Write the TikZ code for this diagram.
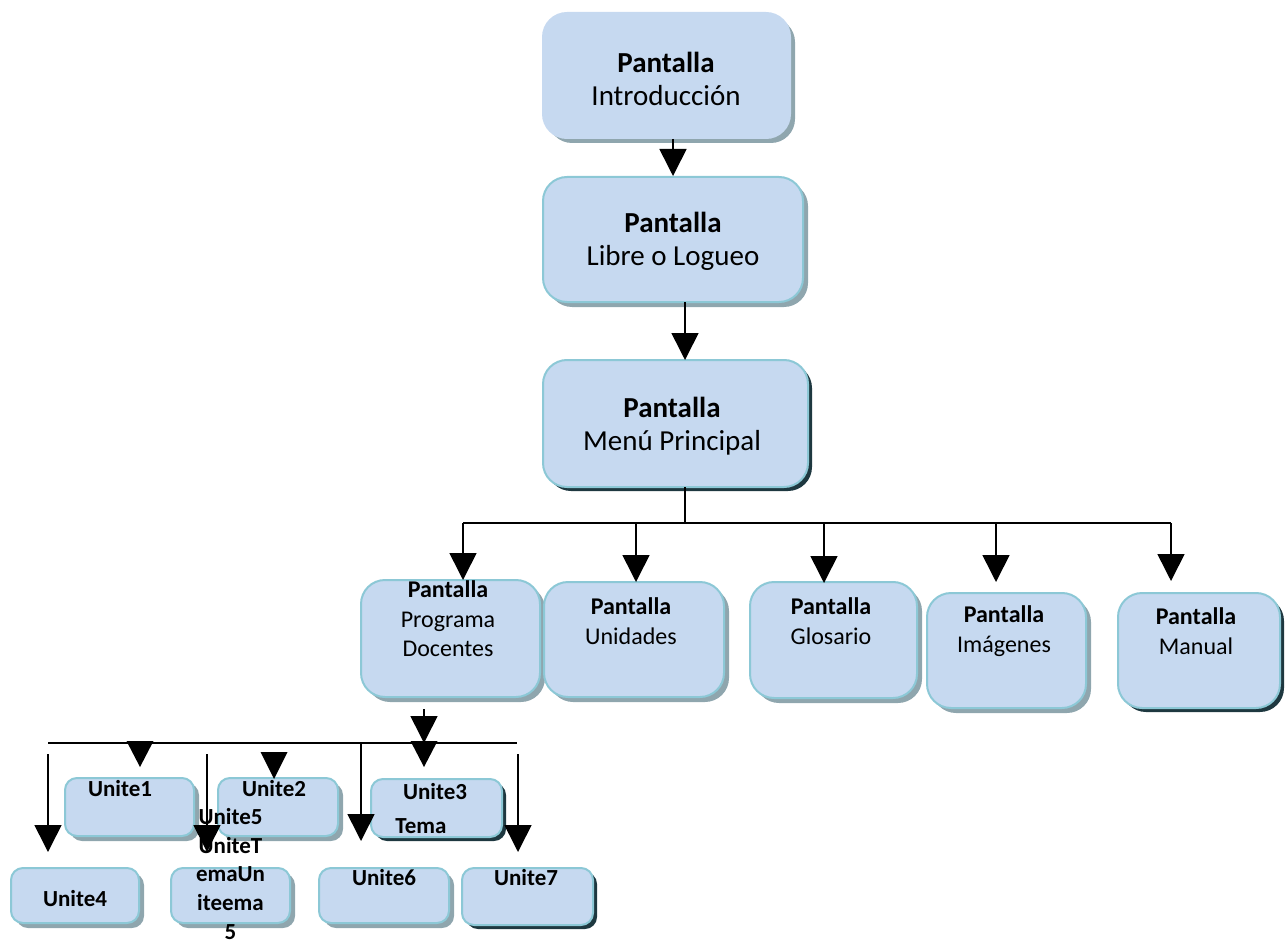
\documentclass[tikz,border=0pt]{standalone}
\usepackage{fontspec}
\setmainfont{Carlito}
\usetikzlibrary{arrows.meta,shadows}
\definecolor{boxfill}{HTML}{C6D9F0}
\definecolor{boxline}{HTML}{8CC8D6}
\definecolor{shgray}{HTML}{8FA6AE}
\definecolor{shdark}{HTML}{1E3840}
\newcommand\mkbox[6]{\node[#6, minimum width={(#4-#2)*1pt}, minimum height={(#5-#3)*1pt}] (#1) at ({(#2+#4)/2},{(#3+#5)/2}) {};}
\begin{document}
\begin{tikzpicture}[x=1pt,y=-1pt,
  bigbox/.style={draw=boxline, line width=2pt, fill=boxfill, rounded corners=24pt, inner sep=0pt},
  smallbox/.style={draw=boxline, line width=2pt, fill=boxfill, rounded corners=12pt, inner sep=0pt},
  gshadow/.style={drop shadow={shadow xshift=5pt, shadow yshift=-5pt, fill=shgray, opacity=1}},
  dshadow/.style={drop shadow={shadow xshift=4pt, shadow yshift=-4pt, fill=shdark, opacity=1}},
  bigt/.style={font=\fontsize{29}{33}\selectfont, align=center, inner sep=0pt},
  rowt/.style={font=\fontsize{24}{29.5}\selectfont, align=center, inner sep=0pt},
  unt/.style={font=\fontsize{23}{28.8}\selectfont\bfseries, align=center, inner sep=0pt},
  arr/.style={line width=1.6pt, -{Triangle[length=27pt, width=27pt]}},
  ln/.style={line width=1.6pt}]
\useasboundingbox (0,0) rectangle (1287,941);

% top boxes
\mkbox{intro}{543}{13}{790}{138}{bigbox,draw=boxfill,gshadow}
\mkbox{libre}{543}{177}{803}{302}{bigbox,gshadow}
\mkbox{menu}{543}{360}{808}{487}{bigbox,dshadow}
\node[bigt] (tintro) at (666,79) {\textbf{Pantalla}\\Introducción};
\node[bigt] (tlibre) at (673,241) {\textbf{Pantalla}\\Libre o Logueo};
\node[bigt] (tmenu) at (672,426) {\textbf{Pantalla}\\Menú Principal};

% row boxes
\mkbox{prog}{361}{580}{540}{697}{bigbox,gshadow}
\mkbox{unid}{544}{582}{724}{697}{bigbox,gshadow}
\mkbox{glos}{750}{582}{917}{698}{bigbox,gshadow}
\mkbox{imag}{927}{593}{1086}{708}{bigbox,gshadow}
\mkbox{manu}{1118}{593}{1280}{708}{bigbox,dshadow}
\node[rowt] (tprog) at (448,619) {\textbf{Pantalla}\\Programa\\Docentes};
\node[rowt] (tunid) at (631,621) {\textbf{Pantalla}\\Unidades};
\node[rowt] (tglos) at (831,621) {\textbf{Pantalla}\\Glosario};
\node[rowt] (timag) at (1004,631) {\textbf{Pantalla}\\Imágenes};
\node[rowt] (tmanu) at (1196,631) {\textbf{Pantalla}\\Manual};

% unit boxes
\mkbox{u1}{65}{778}{194}{836}{smallbox,gshadow}
\mkbox{u2}{218}{778}{338}{836}{smallbox,gshadow}
\mkbox{u3}{371}{779}{502}{837}{smallbox,dshadow}
\mkbox{u4}{11}{868}{139}{923}{smallbox,gshadow}
\mkbox{u5}{171}{868}{290}{923}{smallbox,gshadow}
\mkbox{u6}{319}{868}{449}{923}{smallbox,gshadow}
\mkbox{u7}{462}{868}{593}{925}{smallbox,dshadow}
\node[unt] (tu1) at (120,789) {Unite1};
\node[unt] (tu2) at (274,789) {Unite2};
\node[unt] (tu3) at (435,792) {Unite3};
\node[unt] (tu3b) at (421,826) {Tema};
\node[unt] (tu4) at (75,899) {Unite4};
\node[unt] (tu5) at (230.5,874) {Unite5\\UniteT\\emaUn\\iteema\\5};
\node[unt] (tu6) at (384,878) {Unite6};
\node[unt] (tu7) at (526,878) {Unite7};

% top connectors
\draw[arr] (intro.south -| libre.north) -- (libre.north);
\coordinate (l1) at (685,302);
\coordinate (m1) at (685,360);
\draw[arr] (l1) -- (m1);
\coordinate (m2) at (685,487);
\coordinate (bus) at (685,523);
\coordinate (busL) at (463,523);
\coordinate (busR) at (1171,523);
\draw[ln] (m2) -- (bus);
\draw[ln] (busL) -- (busR);
\coordinate (p1) at (463,580);
\coordinate (p2) at (636,582);
\coordinate (p3) at (824,583);
\coordinate (p4) at (996,582);
\coordinate (p5) at (1171,581);
\draw[arr] (busL) -- (p1);
\draw[arr] (p2 |- bus) -- (p2);
\draw[arr] (p3 |- bus) -- (p3);
\draw[arr] (p4 |- bus) -- (p4);
\draw[arr] (busR) -- (p5);

% lower connectors
\coordinate (q0) at (424,709);
\coordinate (lbus) at (424,743);
\coordinate (lbusL) at (48,743);
\coordinate (lbusR) at (517,743);
\draw[arr] (q0) -- (lbus);
\draw[ln] (lbusL) -- (lbusR);
\fill (126.5,741) -- (153.5,741) -- (140,767) -- cycle;
\fill (260.5,752) -- (287.5,752) -- (274,779) -- cycle;
\fill (410.5,741) -- (437.5,741) -- (424,767) -- cycle;
\coordinate (v1a) at (48,754);  \coordinate (v1b) at (48,852);
\coordinate (v2a) at (207,754); \coordinate (v2b) at (207,852);
\coordinate (v3a) at (361,743); \coordinate (v3b) at (361,841);
\coordinate (v4a) at (518,754); \coordinate (v4b) at (518,852);
\draw[arr] (v1a) -- (v1b);
\draw[arr] (v2a) -- (v2b);
\draw[arr] (v3a) -- (v3b);
\draw[arr] (v4a) -- (v4b);
\end{tikzpicture}
\end{document}
